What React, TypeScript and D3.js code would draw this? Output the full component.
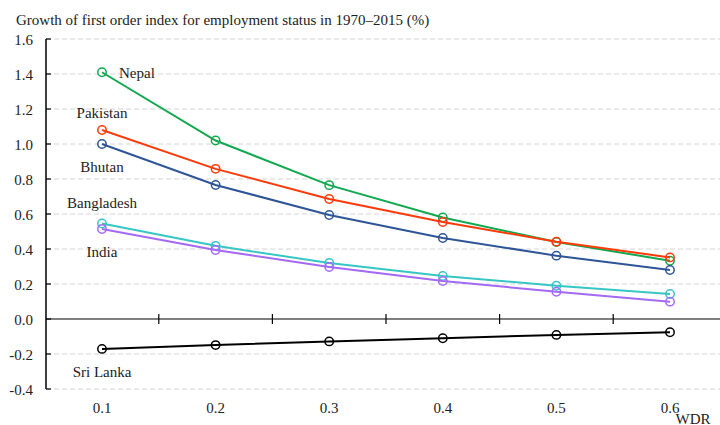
import React from "react";
import * as d3 from "d3";

const xValues = [0.1, 0.2, 0.3, 0.4, 0.5, 0.6];
const nepal = [1.41, 1.02, 0.765, 0.58, 0.44, 0.333];
const pakistan = [1.08, 0.858, 0.686, 0.554, 0.442, 0.352];
const bhutan = [1.0, 0.766, 0.594, 0.463, 0.362, 0.28];
const bangladesh = [0.546, 0.418, 0.32, 0.246, 0.19, 0.143];
const india = [0.514, 0.394, 0.297, 0.217, 0.156, 0.099];
const sriLanka = [-0.171, -0.149, -0.128, -0.11, -0.091, -0.076];
const yTicks = [-0.4, -0.2, 0, 0.2, 0.4, 0.6, 0.8, 1.0, 1.2, 1.4, 1.6];
const zeroTicks = [0.15, 0.25, 0.35, 0.45, 0.55];

const series = [
  { name: "Nepal", values: nepal, color: "#11a84f", lx: 0.115, ly: 1.407, anchor: "start" },
  { name: "Pakistan", values: pakistan, color: "#ff3a0a", lx: 0.1, ly: 1.177, anchor: "middle" },
  { name: "Bhutan", values: bhutan, color: "#2e5597", lx: 0.1, ly: 0.87, anchor: "middle" },
  { name: "Bangladesh", values: bangladesh, color: "#36c6c4", lx: 0.1, ly: 0.663, anchor: "middle" },
  { name: "India", values: india, color: "#a469f5", lx: 0.1, ly: 0.383, anchor: "middle" },
  { name: "Sri Lanka", values: sriLanka, color: "#000000", lx: 0.1, ly: -0.301, anchor: "middle" },
];

const font = "Liberation Serif, DejaVu Serif, Times New Roman, serif";
const ts: React.CSSProperties = { fontFamily: font, fontSize: 15 };

export default function App() {
  const W = 720, H = 425;
  const x = d3.scaleLinear().domain([0.1, 0.6]).range([102, 670]);
  const y = d3.scaleLinear().domain([-0.4, 1.6]).range([389, 39]);
  const axisX = 46;
  const line = d3.line<number>().x((_, i) => x(xValues[i])).y((v) => y(v));
  return (
    <svg width={W} height={H} style={{ position: "absolute", left: 0, top: 0, fontFamily: font }}>
      <rect width={W} height={H} fill="#fff" />
      <text x={16} y={25} style={ts} fill="#222">Growth of first order index for employment status in 1970–2015 (%)</text>
      {yTicks.map((t) => (
        <g key={t}>
          {t !== 0 && (
            <line x1={axisX} x2={W} y1={y(t)} y2={y(t)} stroke="#d4d4d4" strokeDasharray="5,3" />
          )}
          <line x1={axisX} x2={axisX + 5} y1={y(t)} y2={y(t)} stroke="#000" strokeWidth={1.2} />
          <text x={33} y={y(t) + 5.5} style={ts} textAnchor="end" fill="#222">
            {t.toFixed(1)}
          </text>
        </g>
      ))}
      <line x1={axisX} x2={axisX} y1={y(1.6)} y2={y(-0.4)} stroke="#000" strokeWidth={1.5} />
      <line x1={axisX} x2={W} y1={y(0)} y2={y(0)} stroke="#000" strokeWidth={1.2} />
      {zeroTicks.map((t) => (
        <line key={t} x1={x(t)} x2={x(t)} y1={y(0) - 5} y2={y(0) + 5} stroke="#000" strokeWidth={1.2} />
      ))}
      {xValues.map((v) => (
        <text key={v} x={x(v)} y={413} style={ts} textAnchor="middle" fill="#222">{v.toFixed(1)}</text>
      ))}
      <text x={693} y={424} style={ts} textAnchor="middle" fill="#222">WDR</text>
      {series.map((s) => (
        <g key={s.name}>
          <path d={line(s.values) || ""} fill="none" stroke={s.color} strokeWidth={2} />
          {s.values.map((v, i) => (
            <circle key={i} cx={x(xValues[i])} cy={y(v)} r={4.2} fill="none" stroke={s.color} strokeWidth={1.5} />
          ))}
          <text x={x(s.lx)} y={y(s.ly) + 5} style={ts} textAnchor={s.anchor as any} fill="#222">{s.name}</text>
        </g>
      ))}
    </svg>
  );
}
